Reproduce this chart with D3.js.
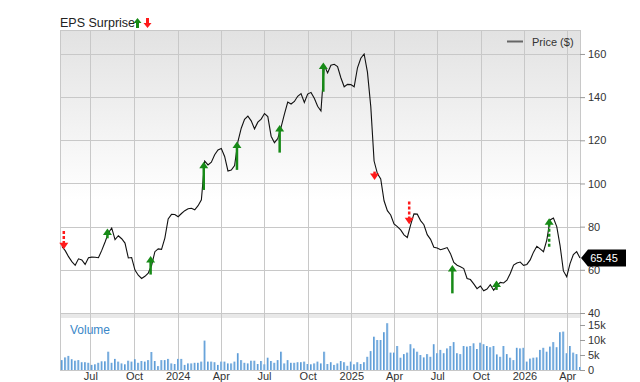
<!DOCTYPE html>
<html>
<head>
<meta charset="utf-8">
<script src="https://cdn.jsdelivr.net/npm/d3@7"></script>
<style>
  body { margin: 0; background: #fff; }
  svg { display: block; font-family: "Liberation Sans", Arial, sans-serif; }
</style>
</head>
<body>
<div class="graph"></div>
<script>
// weekly closes, first week 2023-05-02
var firstWeek = "2023-05-02";
var prices = [70.8, 68.9, 66.1, 63.8, 62.1, 65.1, 64.6, 62.5, 65.6, 65.9,
  65.8, 65.6, 69.0, 72.9, 77.1, 79.4, 74.0, 75.8, 74.4, 72.4,
  65.5, 65.7, 59.9, 57.5, 56.0, 57.0, 58.5, 62.0, 68.4, 69.7,
  69.5, 74.7, 83.6, 85.7, 85.6, 84.6, 86.1, 87.4, 88.3, 88.5,
  87.8, 89.7, 92.4, 110.4, 108.6, 109.9, 113.3, 115.5, 116.2, 112.5,
  105.8, 106.2, 108.3, 119.4, 125.6, 129.7, 131.2, 129.0, 125.3, 128.4,
  129.8, 132.4, 131.0, 121.9, 118.9, 120.8, 126.1, 132.1, 137.7, 136.8,
  138.0, 140.4, 141.6, 137.5, 141.4, 142.2, 139.5, 135.8, 133.6, 154.8,
  151.2, 154.8, 155.2, 154.2, 149.0, 144.8, 145.9, 145.8, 144.8, 153.6,
  158.0, 160.0, 151.6, 135.7, 110.4, 104.6, 102.1, 92.0, 87.4, 85.4,
  81.3, 80.0, 78.5, 76.2, 75.0, 80.8, 85.9, 85.8, 82.8, 80.9,
  76.3, 74.1, 70.5, 70.1, 69.3, 69.8, 70.3, 67.5, 63.4, 62.1,
  61.4, 60.6, 56.0, 55.5, 53.5, 51.3, 52.5, 50.3, 51.1, 53.1,
  50.5, 52.7, 54.2, 53.9, 55.2, 58.3, 62.2, 63.2, 63.6, 62.1,
  62.5, 64.6, 68.2, 70.9, 69.7, 68.4, 73.8, 83.1, 84.0, 80.0,
  71.2, 59.5, 56.8, 62.9, 67.1, 68.4, 65.45];

// weekly volume, thousands
var volumes = [3.3, 4.2, 4.7, 3.6, 3.1, 3.3, 2.6, 2.6, 2.4, 1.7,
  1.9, 2.4, 2.9, 2.9, 6.1, 2.4, 3.7, 2.8, 2.2, 1.9,
  3.1, 2.8, 3.6, 2.4, 3.0, 2.8, 3.3, 6.0, 3.0, 1.3,
  3.3, 3.3, 3.7, 2.2, 2.0, 3.7, 3.7, 1.7, 2.2, 2.2,
  2.4, 2.4, 2.8, 9.8, 2.8, 2.8, 2.6, 1.7, 2.8, 2.8,
  2.2, 2.2, 2.8, 5.6, 3.3, 2.4, 2.2, 3.1, 3.1, 2.0,
  3.0, 1.9, 4.1, 3.0, 2.4, 3.3, 6.1, 2.2, 3.3, 2.4,
  2.4, 2.6, 2.6, 2.8, 2.0, 1.9, 2.2, 2.8,
  2.2, 6.1, 2.0, 2.6, 1.7, 2.2, 3.0, 2.6, 1.4, 2.8,
  1.9, 2.6, 2.0, 2.6, 4.4, 6.3, 11.1, 10.0, 10.0, 12.6,
  15.6, 5.8, 5.8, 8.0, 4.1, 5.3, 5.8, 8.6, 7.2, 6.1,
  5.0, 4.2, 5.3, 4.4, 8.6, 5.6, 6.7, 5.6, 7.2, 8.0,
  9.3, 5.6, 5.3, 8.0, 7.8, 8.0, 8.9, 7.0, 9.1, 8.6,
  8.0, 7.6, 8.0, 5.2, 4.4, 8.0, 5.3, 4.1, 3.3, 7.4,
  7.2, 7.4, 2.8, 3.8, 4.1, 4.2, 6.7, 7.4, 6.1, 7.8,
  9.3, 7.6, 12.6, 12.8, 5.6, 8.0, 5.8, 5.3, 1.0];

// earnings surprises: date, arrow tail value, arrow head value, dashed shaft
var epsDates = ["2023-05-06", "2023-08-06", "2023-11-05", "2024-02-25", "2024-05-05", "2024-08-03",
  "2024-11-03", "2025-02-19", "2025-05-03", "2025-08-02", "2025-11-03", "2026-02-22"];
var epsFrom = [78.0, 74.6, 57.8, 97.0, 106.3, 114.3, 142.5, 105.5, 91.6, 49.1, 50.7, 70.7];
var epsTo   = [69.5, 79.2, 66.4, 110.1, 119.4, 127.1, 156.0, 101.6, 81.1, 62.2, 55.0, 83.9];
var epsDashed = [true, false, false, false, false, false, false, false, true, false, false, true];

var priceTicks = [40, 60, 80, 100, 120, 140, 160];
var volTicks = [0, 5, 10, 15];
var lastPrice = 65.45;

var W = 640, H = 382;
var left = 60, right = 580;
var pTop = 30, pBot = 313, vTop = 318, vBot = 370;

var parse = d3.timeParse("%Y-%m-%d");
var start = parse(firstWeek);
var weekly = prices.map(function(p, i) {
  return {date: d3.timeDay.offset(start, 7 * i), close: p, vol: volumes[i] || 0};
});

var x = d3.scaleTime().domain([new Date(2023, 3, 28), new Date(2026, 3, 28)]).range([left, right]);
var yP = d3.scaleLinear().domain([40, 171.1]).range([pBot, pTop]);
var yV = d3.scaleLinear().domain([0, 17.33]).range([vBot, vTop]);

var svg = d3.select(".graph").append("svg").attr("width", W).attr("height", H);
var defs = svg.append("defs");
var bg = defs.append("linearGradient").attr("id", "bg").attr("x1", 0).attr("y1", 0).attr("x2", 0).attr("y2", 1);
bg.append("stop").attr("offset", "0").attr("stop-color", "#e2e2e2");
bg.append("stop").attr("offset", "0.6").attr("stop-color", "#ffffff");
var vg = defs.append("linearGradient").attr("id", "vg").attr("x1", 0).attr("y1", 0).attr("x2", 1).attr("y2", 0);
vg.append("stop").attr("offset", "0").attr("stop-color", "#3f88cc");
vg.append("stop").attr("offset", "1").attr("stop-color", "#a8cdef");

// panels
svg.append("rect").attr("x", left).attr("y", pTop).attr("width", right - left).attr("height", pBot - pTop)
  .attr("fill", "url(#bg)");
svg.append("rect").attr("x", left).attr("y", pBot + 1).attr("width", right - left).attr("height", vTop - pBot - 1)
  .attr("fill", "#e8e8e8");

var monthTicks = x.ticks(d3.timeMonth.every(3));

// grid
svg.append("g").selectAll("line").data(monthTicks).enter().append("line")
  .attr("x1", function(d) { return Math.round(x(d)) + 0.5; })
  .attr("x2", function(d) { return Math.round(x(d)) + 0.5; })
  .attr("y1", pTop).attr("y2", vBot)
  .attr("stroke", "#c8c8c8");
svg.append("g").selectAll("line").data(priceTicks).enter().append("line")
  .attr("x1", left).attr("x2", right)
  .attr("y1", function(d) { return Math.round(yP(d)) + 0.5; })
  .attr("y2", function(d) { return Math.round(yP(d)) + 0.5; })
  .attr("stroke", "#c8c8c8");
svg.append("rect").attr("x", left + 0.5).attr("y", pTop + 0.5).attr("width", right - left).attr("height", vBot - pTop)
  .attr("fill", "none").attr("stroke", "#c8c8c8");

// volume bars
svg.append("g").selectAll("rect").data(weekly).enter().append("rect")
  .attr("x", function(d) { return x(d.date) - 1; })
  .attr("width", 2)
  .attr("y", function(d) { return yV(d.vol); })
  .attr("height", function(d) { return vBot - yV(d.vol); })
  .attr("fill", "url(#vg)");

svg.append("text").attr("x", 70).attr("y", 334).attr("font-size", 12).attr("fill", "#3a87c8").text("Volume");

// price line
var line = d3.line()
  .x(function(d) { return x(d.date); })
  .y(function(d) { return yP(d.close); });
svg.append("path").datum(weekly).attr("d", line)
  .attr("fill", "none").attr("stroke", "#111").attr("stroke-width", 1.1);

// eps arrows
var eps = epsDates.map(function(d, i) {
  return {date: parse(d), from: epsFrom[i], to: epsTo[i], dashed: epsDashed[i], up: epsTo[i] > epsFrom[i]};
});
var ag = svg.append("g").selectAll("g").data(eps).enter().append("g");
ag.append("line")
  .attr("x1", function(d) { return x(d.date); })
  .attr("x2", function(d) { return x(d.date); })
  .attr("y1", function(d) { return yP(d.from); })
  .attr("y2", function(d) { return yP(d.to) + (d.up ? 5 : -5); })
  .attr("stroke", function(d) { return d.up ? "#178a17" : "#ff1a1a"; })
  .attr("stroke-width", 2.5)
  .attr("stroke-dasharray", function(d) { return d.dashed ? "3,2" : null; });
ag.append("path")
  .attr("d", function(d) {
    var cx = x(d.date), ty = yP(d.to), s = d.up ? 1 : -1;
    return "M" + (cx - 4.5) + "," + (ty + 6.5 * s) + "L" + cx + "," + ty + "L" + (cx + 4.5) + "," + (ty + 6.5 * s) + "Z";
  })
  .attr("fill", function(d) { return d.up ? "#178a17" : "#ff1a1a"; });

// axes
var yAxis = svg.append("g").attr("transform", "translate(" + right + ",0)")
  .call(d3.axisRight(yP).tickValues(priceTicks).tickSize(5).tickPadding(3));
var vAxis = svg.append("g").attr("transform", "translate(" + right + ",0)")
  .call(d3.axisRight(yV).tickValues(volTicks).tickSize(5).tickPadding(3)
    .tickFormat(function(d) { return d === 0 ? "0" : d + "k"; }));
var xAxis = svg.append("g").attr("transform", "translate(0," + vBot + ")")
  .call(d3.axisBottom(x).tickValues(monthTicks).tickSize(0).tickPadding(2)
    .tickFormat(function(d) { return d.getMonth() === 0 ? d3.timeFormat("%Y")(d) : d3.timeFormat("%b")(d); }));
[yAxis, vAxis, xAxis].forEach(function(a) {
  a.select(".domain").remove();
  a.selectAll("line").attr("stroke", "#999");
  a.selectAll("text").attr("font-size", 11).attr("fill", "#333").attr("font-family", "Liberation Sans, Arial, sans-serif");
});

// last price tag
var ly = yP(lastPrice);
svg.append("path")
  .attr("d", "M" + (right + 1) + "," + ly + "L" + (right + 8) + "," + (ly - 8.5) + "L626," + (ly - 8.5) +
    "L626," + (ly + 8.5) + "L" + (right + 8) + "," + (ly + 8.5) + "Z")
  .attr("fill", "#000");
svg.append("text").attr("x", 604).attr("y", ly + 4).attr("text-anchor", "middle")
  .attr("font-size", 11).attr("fill", "#fff").text(lastPrice.toFixed(2));

// legend
svg.append("line").attr("x1", 507).attr("x2", 523).attr("y1", 41.5).attr("y2", 41.5)
  .attr("stroke", "#666").attr("stroke-width", 2);
svg.append("text").attr("x", 532).attr("y", 45.5).attr("font-size", 11).attr("fill", "#333").text("Price ($)");

// title
svg.append("text").attr("x", 60).attr("y", 27).attr("font-size", 12.5).attr("fill", "#222").text("EPS Surprise");
svg.append("path").attr("d", "M133.5,23L137.5,18L141.5,23L139,23L139,28L136,28L136,23Z").attr("fill", "#178a17");
svg.append("path").attr("d", "M143.5,23L147.5,28L151.5,23L149,23L149,18L146,18L146,23Z").attr("fill", "#ff1a1a");
</script>
</body>
</html>
